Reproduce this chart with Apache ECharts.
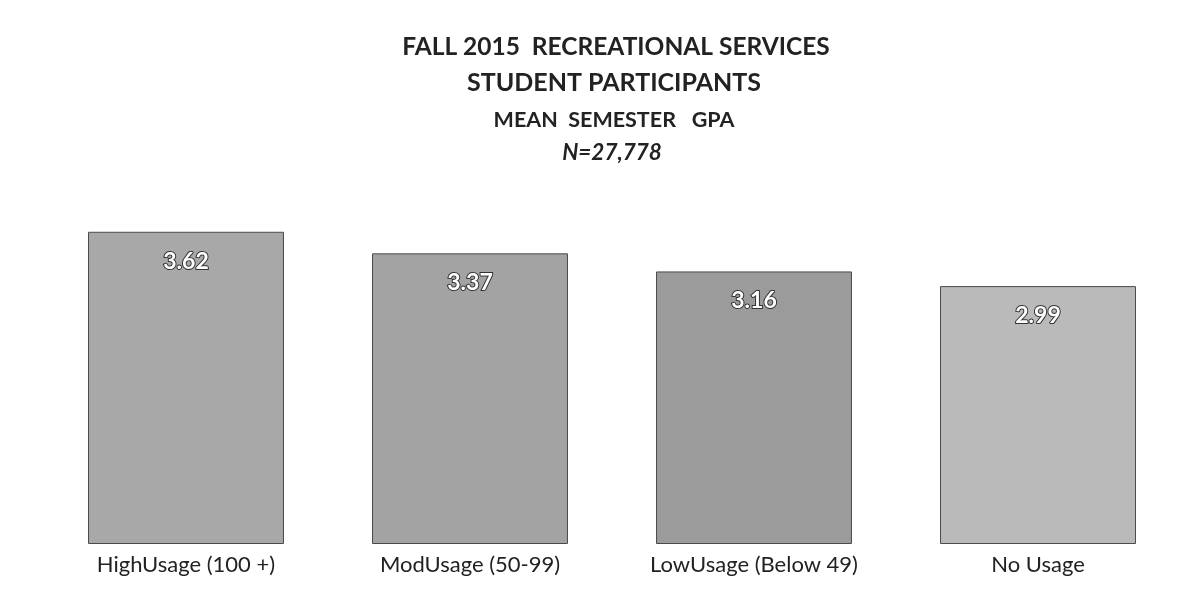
<!DOCTYPE html>
<html>
<head>
<meta charset="utf-8">
<title>Fall 2015 Recreational Services - Mean Semester GPA</title>
<script src="https://cdn.jsdelivr.net/npm/echarts@6/dist/echarts.min.js"></script>
<style>
    html, body {
        margin: 0;
        padding: 0;
        background: #ffffff;
    }

    #main {
        width: 1198px;
        height: 598px;
    }
</style>
</head>
<body>
<div id="main"></div>

<script>
    // categories and mean GPA values
    var usageGroups = ['HighUsage (100 +)', 'ModUsage (50-99)', 'LowUsage (Below 49)', 'No Usage'];
    var meanGpa = [3.62, 3.37, 3.16, 2.99];

    var titleLines = ['FALL 2015  RECREATIONAL SERVICES', 'STUDENT PARTICIPANTS', 'MEAN  SEMESTER   GPA', 'N=27,778'];

    // bar shades (the last one is lighter in the scan)
    var barShades = ['#a8a8a8', '#a3a3a3', '#9b9b9b', '#bababa'];

    var myChart = echarts.init(document.getElementById('main'));

    var option = {
        backgroundColor: '#ffffff',
        animation: false,
        title: [
            {
                text: titleLines[0], left: 611, top: 30, textAlign: 'center',
                textStyle: {fontFamily: 'Lato', fontWeight: 'bold', fontSize: 24.5, color: '#222'}
            },
            {
                text: titleLines[1], left: 609, top: 65, textAlign: 'center',
                textStyle: {fontFamily: 'Lato', fontWeight: 'bold', fontSize: 25, color: '#222'}
            },
            {
                text: titleLines[2], left: 609, top: 104, textAlign: 'center',
                textStyle: {fontFamily: 'Lato', fontWeight: 'bold', fontSize: 21.5, color: '#222'}
            },
            {
                text: titleLines[3], left: 607, top: 136, textAlign: 'center',
                textStyle: {fontFamily: 'Lato', fontWeight: 'bold', fontStyle: 'italic', fontSize: 22.5, color: '#222'}
            }
        ],
        grid: {
            left: 44,
            right: 18,
            top: 199,
            bottom: 54
        },
        xAxis: {
            type: 'category',
            data: usageGroups,
            axisLine: {show: false},
            axisTick: {show: false},
            axisLabel: {
                margin: 10,
                fontFamily: 'Lato',
                fontSize: 22,
                color: '#222'
            }
        },
        yAxis: {
            type: 'value',
            min: 0,
            max: 4,
            show: false,
            splitLine: {show: false}
        },
        series: [{
            type: 'bar',
            barWidth: '69%',
            data: meanGpa.map(function (v, i) {
                return {value: v, itemStyle: {color: barShades[i]}};
            }),
            itemStyle: {
                borderColor: '#4a4a4a',
                borderWidth: 1
            },
            label: {
                show: true,
                position: 'insideTop',
                distance: 18,
                fontFamily: 'Lato',
                fontWeight: 'bold',
                fontSize: 23,
                color: '#ffffff',
                textBorderColor: '#333333',
                textBorderWidth: 2
            }
        }]
    };

    myChart.setOption(option);
</script>
</body>
</html>
